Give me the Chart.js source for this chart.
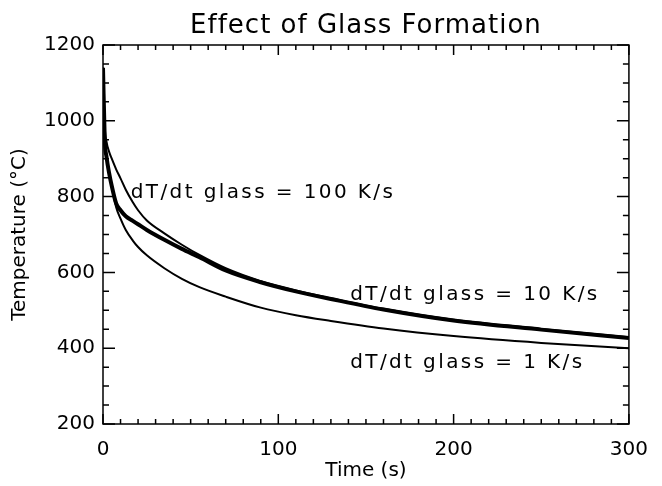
<!DOCTYPE html>
<html>
<head>
<meta charset="utf-8">
<title>Effect of Glass Formation</title>
<script src="https://cdn.jsdelivr.net/npm/chart.js@4.4.1/dist/chart.umd.min.js"></script>
<style>
  html, body { margin: 0; padding: 0; background: #fff; }
  canvas { display: block; }
</style>
</head>
<body>
<canvas id="glassChart" width="662" height="486"></canvas>
<script>
// time axis (s) and temperatures (°C)
const timeS = [0, 1, 2, 3.5, 5, 7.5, 10, 13, 17, 20, 25, 35, 45, 55, 70, 90, 110, 130, 160, 200, 250, 300];
const temp100 = [1140, 985, 945, 918, 900, 872, 848, 818, 785, 764, 737, 703, 673, 646, 611, 577, 552, 532, 504, 475, 451, 429];
const temp10  = [1140, 950, 905, 862, 828, 782, 764, 748, 736, 727, 712, 686, 662, 640, 605, 574, 550, 530, 502, 473, 449, 427];
const temp1   = [1140, 950, 905, 862, 828, 772, 742, 712, 684, 667, 645, 611, 583, 561, 536, 507, 487, 472, 452, 432, 414, 400];

const xTicks = [0, 100, 200, 300];
const yTicks = [200, 400, 600, 800, 1000, 1200];

const chartTitle = 'Effect of Glass Formation';
const notes = ['dT/dt glass = 100 K/s', 'dT/dt glass = 10 K/s', 'dT/dt glass = 1 K/s'];
// where each note sits, in data units (left edge, baseline)
const notePos = [[15.8, 796], [141, 527], [141, 348]];

const FONT = '"DejaVu Sans", sans-serif';

function toPoints(ys) {
  return timeS.map((t, i) => ({ x: t, y: ys[i] }));
}

// box, inward ticks on all four sides, title and curve labels
const frame = {
  id: 'frame',
  afterDatasetsDraw(chart) {
    const { ctx, chartArea: a, scales: { x, y } } = chart;
    ctx.save();
    ctx.strokeStyle = '#000';
    ctx.lineWidth = 1.5;
    ctx.strokeRect(a.left, a.top, a.right - a.left, a.bottom - a.top);

    ctx.beginPath();
    for (let v = x.min; v <= x.max; v += 10) {
      const px = x.getPixelForValue(v);
      const len = v % 100 === 0 ? 10 : 5;
      ctx.moveTo(px, a.bottom); ctx.lineTo(px, a.bottom - len);
      ctx.moveTo(px, a.top); ctx.lineTo(px, a.top + len);
    }
    for (let v = y.min; v <= y.max; v += 50) {
      const py = y.getPixelForValue(v);
      const len = v % 200 === 0 ? 12 : 6;
      ctx.moveTo(a.left, py); ctx.lineTo(a.left + len, py);
      ctx.moveTo(a.right, py); ctx.lineTo(a.right - len, py);
    }
    ctx.stroke();

    ctx.fillStyle = '#000';
    ctx.textBaseline = 'alphabetic';
    ctx.font = '20px ' + FONT;
    ctx.letterSpacing = '2.4px';
    ctx.textAlign = 'left';
    notes.forEach((txt, i) => {
      ctx.fillText(txt, x.getPixelForValue(notePos[i][0]), y.getPixelForValue(notePos[i][1]));
    });

    ctx.font = '26px ' + FONT;
    ctx.letterSpacing = '1px';
    ctx.textAlign = 'center';
    ctx.fillText(chartTitle, (a.left + a.right) / 2, 33);
    ctx.restore();
  }
};

new Chart(document.getElementById('glassChart'), {
  type: 'line',
  data: {
    datasets: [
      { label: '100 K/s', data: toPoints(temp100), borderColor: '#000', borderWidth: 2 },
      { label: '10 K/s', data: toPoints(temp10), borderColor: '#000', borderWidth: 4 },
      { label: '1 K/s', data: toPoints(temp1), borderColor: '#000', borderWidth: 2 }
    ]
  },
  options: {
    responsive: false,
    animation: false,
    events: [],
    layout: { padding: { top: 45, right: 23, bottom: 0, left: 0 } },
    elements: {
      point: { radius: 0 },
      line: { cubicInterpolationMode: 'monotone', fill: false }
    },
    plugins: { legend: { display: false }, tooltip: { enabled: false } },
    scales: {
      x: {
        type: 'linear',
        min: 0, max: 300,
        afterBuildTicks: s => { s.ticks = xTicks.map(v => ({ value: v })); },
        afterFit: s => { s.height = 62; },
        grid: { display: false, drawTicks: false },
        border: { display: false },
        ticks: { color: '#000', padding: 14, font: { family: FONT, size: 20 }, maxRotation: 0, callback: v => String(v) },
        title: { display: true, text: 'Time (s)', color: '#000', font: { family: FONT, size: 20 }, padding: { top: 0, bottom: 3 } }
      },
      y: {
        type: 'linear',
        min: 200, max: 1200,
        afterBuildTicks: s => { s.ticks = yTicks.map(v => ({ value: v })); },
        afterFit: s => { s.width = 103; },
        grid: { display: false, drawTicks: false },
        border: { display: false },
        ticks: { color: '#000', padding: 8, font: { family: FONT, size: 20 }, callback: v => String(v) },
        title: { display: true, text: 'Temperature (°C)', color: '#000', font: { family: FONT, size: 20 }, padding: { top: 8, bottom: 0 } }
      }
    }
  },
  plugins: [frame]
});
</script>
</body>
</html>
